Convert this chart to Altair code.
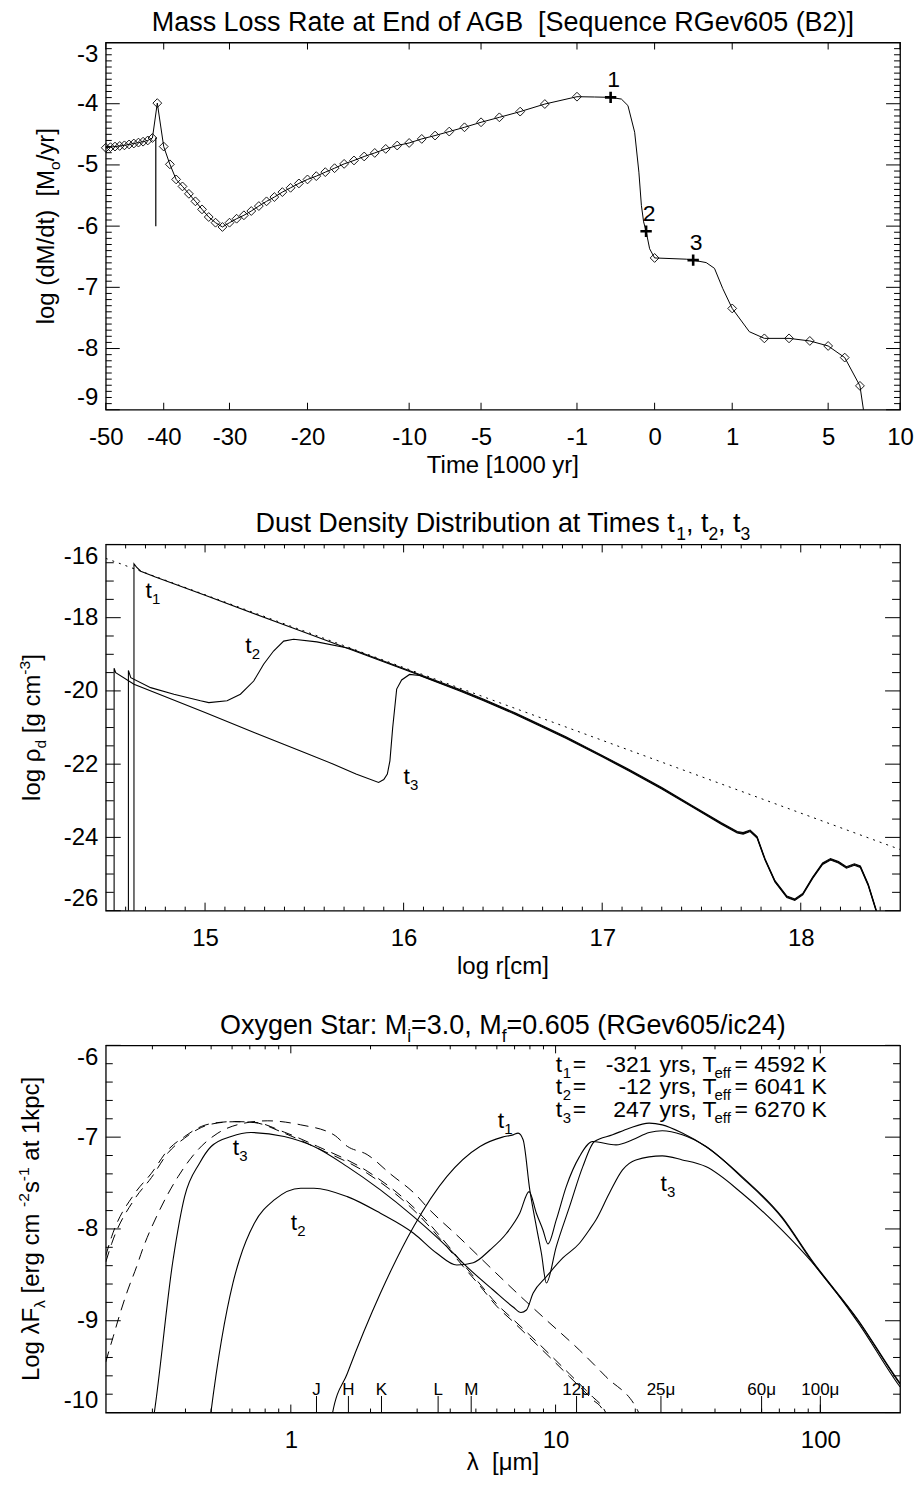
import altair as alt
import pandas as pd
import numpy as np

FONT = "Liberation Sans"

# ------------------------------------------------------------------
# Panel 1 : mass-loss rate history (time in 1000 yr, log dM/dt)
# ------------------------------------------------------------------
cluster_t = [-50.0, -49.15, -48.33, -47.49, -46.66, -45.84, -45.02, -44.22, -43.43, -42.64, -41.86]
cluster_v = [-4.72, -4.71, -4.70, -4.69, -4.68, -4.665, -4.65, -4.635, -4.62, -4.60, -4.56]
spike_t = [-41.05]
spike_v = [-3.99]
agb_t = [-40, -39, -38, -37, -36, -35, -34, -33, -32, -31, -30, -29, -28, -27, -26, -25, -24, -23, -22, -21,
         -20, -19, -18, -17, -16, -15, -14, -13, -12, -11, -10, -9, -8, -7, -6, -5, -4, -3, -2, -1]
agb_v = [-4.70, -4.99, -5.237, -5.351, -5.472, -5.595, -5.726, -5.851, -5.944, -6.014,
         -5.944, -5.879, -5.823, -5.753, -5.672, -5.595, -5.525, -5.444, -5.374, -5.302,
         -5.237, -5.183, -5.118, -5.053, -4.983, -4.927, -4.862, -4.804, -4.738, -4.683,
         -4.641, -4.575, -4.52, -4.455, -4.385, -4.303, -4.222, -4.129, -4.005, -3.885]
post_t = [0, 1, 2, 3, 4, 5, 6, 7]
post_v = [-6.52, -7.345, -7.834, -7.834, -7.876, -7.958, -8.148, -8.61]
curve_t = [-0.6, -0.183, -0.118, -0.066, -0.041, -0.029, -0.020, -0.0041, 0.166, 0.442, 0.595, 0.771, 1.49, 7.24, 7.45]
curve_v = [-3.89, -3.924, -4.03, -4.466, -5.118, -5.66, -5.93, -6.37, -6.54, -6.596, -6.69, -7.02, -7.725, -9.0, -9.8]
cross_t = [-0.321, -0.012, 0.247]
cross_v = [-3.896, -6.084, -6.556]
cross_txt = ["1", "2", "3"]
drop_t = [-41.3]
drop_v1 = [-4.55]
drop_v2 = [-6.0]
time_ticks = [-50, -40, -30, -20, -10, -5, -1, 0, 1, 5, 10]
mdot_ticks = [-3, -4, -5, -6, -7, -8, -9]

# ------------------------------------------------------------------
# Panel 2 : dust density distribution (log r, log rho_d)
# ------------------------------------------------------------------
dot_r = [14.5, 18.5]
dot_v = [-16.38, -24.33]
merge_r = [16.4, 16.566, 16.7, 16.817, 17.0, 17.133, 17.3, 17.45, 17.6, 17.68, 17.71, 17.745, 17.78, 17.82,
           17.87, 17.93, 17.97, 18.01, 18.06, 18.11, 18.15, 18.19, 18.23, 18.27, 18.30, 18.34, 18.38, 18.42]
d1_r = [14.642, 14.642, 14.655, 14.676, 14.75, 15.0, 15.5, 16.0, 16.283] + merge_r
d1_v = [-26.5, -16.53, -16.62, -16.73, -16.89, -17.39, -18.40, -19.41, -19.98,
        -20.24, -20.63, -20.97, -21.27, -21.78, -22.16, -22.66, -23.14, -23.62, -23.86, -23.89, -23.82, -24.0, -24.6,
        -25.2, -25.62, -25.7, -25.55, -25.1, -24.72, -24.6, -24.68, -24.82, -24.74, -24.8, -25.3, -26.0, -26.6]
d2_r = [14.614, 14.614, 14.626, 14.726, 14.843, 14.977, 15.019, 15.111, 15.178, 15.245, 15.295, 15.345,
        15.396, 15.446, 15.563, 15.73, 16.0, 16.283] + merge_r
d2_v = [-26.5, -19.44, -19.64, -19.91, -20.09, -20.27, -20.32, -20.27, -20.09, -19.73, -19.27, -18.91,
        -18.64, -18.59, -18.66, -18.84, -19.39, -19.96,
        -20.22, -20.61, -20.95, -21.25, -21.76, -22.14, -22.64, -23.12, -23.60, -23.84, -23.87, -23.80, -23.98, -24.58,
        -25.18, -25.6, -25.68, -25.53, -25.08, -24.70, -24.58, -24.66, -24.80, -24.72, -24.78, -25.28, -25.98, -26.58]
d3_r = [14.542, 14.542, 14.55, 14.642, 14.81, 15.0, 15.25, 15.5, 15.647, 15.76, 15.874, 15.90, 15.918, 15.931,
        15.945, 15.965, 15.99, 16.03, 16.08, 16.283] + merge_r
d3_v = [-26.5, -19.38, -19.50, -19.82, -20.18, -20.59, -21.14, -21.68, -22.0, -22.27, -22.5, -22.42, -22.27, -21.91,
        -21.0, -19.95, -19.70, -19.55, -19.58, -20.0,
        -20.26, -20.65, -20.99, -21.29, -21.80, -22.18, -22.68, -23.16, -23.64, -23.88, -23.91, -23.84, -24.02, -24.62,
        -25.22, -25.64, -25.72, -25.57, -25.12, -24.74, -24.62, -24.70, -24.84, -24.76, -24.82, -25.32, -26.02, -26.62]
dlab_r = [14.70, 15.203, 16.0]
dlab_v = [-17.46, -18.96, -22.54]
dlab_sub = ["1", "2", "3"]
r_major = [15, 16, 17, 18]
rho_major = [-16, -18, -20, -22, -24, -26]

# ------------------------------------------------------------------
# Panel 3 : spectral energy distributions (lambda in micron, log lambda F_lambda)
# ------------------------------------------------------------------
s1_lam = [1.40, 1.434, 1.634, 2.179, 2.908, 3.882, 5.181, 6.3, 6.91, 7.22, 7.54, 7.99, 8.46, 8.84, 9.23, 10.06,
          11.29, 12.67, 14.02, 16.42, 18.98, 22.57, 25.3, 30.1, 36.9, 50.6, 71.5, 92.8, 138.9, 197.7, 200]
s1_v = [-10.2, -10.02, -9.574, -8.701, -7.975, -7.430, -7.102, -7.00, -6.975, -6.956, -7.029, -7.575, -7.975,
        -8.265, -8.589, -8.193, -7.757, -7.321, -7.048, -6.975, -6.902, -6.847, -6.866, -6.956, -7.102, -7.43,
        -7.866, -8.338, -8.992, -9.66, -9.68]
s2_lam = [0.48, 0.498, 0.604, 0.639, 0.728, 0.866, 1.090, 1.223, 1.634, 2.179, 2.908, 3.56, 4.234, 4.888, 5.648,
          6.53, 7.32, 7.94, 8.46, 8.96, 9.36, 10.06, 10.97, 12.31, 13.81, 16.91, 19.53, 22.57, 25.3, 30.1, 36.9,
          50.6, 71.5, 92.8, 138.9, 197.7, 200]
s2_v = [-10.4, -10.02, -8.592, -8.338, -7.938, -7.684, -7.556, -7.556, -7.648, -7.829, -8.047, -8.265, -8.393,
        -8.368, -8.229, -8.047, -7.829, -7.593, -7.829, -8.011, -8.164, -7.902, -7.539, -7.212, -7.048, -7.084,
        -7.029, -6.95, -6.93, -6.975, -7.10, -7.44, -7.876, -8.35, -9.0, -9.67, -9.69]
s3_lam = [0.29, 0.3044, 0.359, 0.397, 0.452, 0.500, 0.595, 0.707, 0.944, 1.223, 1.634, 2.179, 2.908, 3.882, 4.617,
          5.812, 6.91, 7.40, 7.76, 8.22, 9.23, 10.65, 12.31, 13.4, 14.2, 15.96, 17.9, 20.1, 25.3, 30.1, 36.9, 50.6,
          71.5, 92.8, 138.9, 197.7, 200]
s3_v = [-10.4, -10.02, -8.338, -7.648, -7.284, -7.102, -6.993, -6.950, -6.993, -7.102, -7.321, -7.575, -7.866,
        -8.193, -8.411, -8.665, -8.85, -8.91, -8.883, -8.701, -8.52, -8.316, -8.156, -8.011, -7.902, -7.611, -7.357,
        -7.248, -7.204, -7.248, -7.321, -7.611, -8.011, -8.36, -9.02, -9.70, -9.72]
p1_lam = [0.2, 0.206, 0.2133, 0.2245, 0.2422, 0.2615, 0.2749, 0.3153, 0.3751, 0.4459, 0.5302, 0.6486, 0.8176,
          1.090, 1.455, 1.634, 1.942, 2.376, 2.995, 3.265, 4.356, 5.81, 7.536, 9.226, 12.31, 15.51, 20.39, 21.0]
p1_v = [-9.45, -9.32, -9.175, -8.956, -8.665, -8.411, -8.229, -7.829, -7.43, -7.138, -6.956, -6.855, -6.822,
        -6.866, -6.975, -7.10, -7.19, -7.40, -7.64, -7.76, -8.10, -8.45, -8.76, -8.992, -9.32, -9.611, -9.974, -10.05]
p3_lam = [0.2, 0.2105, 0.2576, 0.2976, 0.3439, 0.3971, 0.4588, 0.5302, 0.612, 0.7278, 0.9437, 1.26, 1.942, 2.995,
          3.882, 4.483, 5.18, 5.985, 6.91, 8.218, 9.768, 11.29, 13.81, 15.06, 15.5]
p3_v = [-8.29, -8.084, -7.611, -7.393, -7.138, -6.993, -6.884, -6.841, -6.830, -6.841, -6.956, -7.12, -7.393,
        -7.829, -8.193, -8.411, -8.62, -8.84, -9.01, -9.22, -9.43, -9.61, -9.86, -9.97, -10.05]
p2_lam = [0.2, 0.2105, 0.2576, 0.2976, 0.3439, 0.3971, 0.4588, 0.5302, 0.612, 0.7278, 0.9437, 1.26, 1.942, 2.995,
          3.882, 4.483, 5.18, 5.985, 6.91, 8.218, 9.768, 11.29, 13.81, 15.06, 15.6]
p2_v = [-8.36, -8.16, -7.67, -7.44, -7.17, -7.01, -6.895, -6.845, -6.832, -6.838, -6.945, -7.10, -7.37, -7.80,
        -8.165, -8.385, -8.60, -8.815, -8.985, -9.19, -9.40, -9.58, -9.83, -9.94, -10.02]
band_lam = [1.25, 1.65, 2.2, 3.6, 4.8, 12, 25, 60, 100]
band_txt = ["J", "H", "K", "L", "M", "12\u03bc", "25\u03bc", "60\u03bc", "100\u03bc"]
band_lo = -10.0
band_hi = -9.82
slab_lam = [6.05, 1.0, 0.604, 24.9]
slab_v = [-6.90, -8.01, -7.19, -7.59]
slab_sub = ["1", "2", "3", "3"]
leg_sub = ["1", "2", "3"]
leg_time = ["-321", "-12", "247"]
leg_teff = ["4592", "6041", "6270"]
lam_major = [1, 10, 100]
lam_minor = [0.3, 0.4, 0.5, 0.6, 0.7, 0.8, 0.9, 2, 3, 4, 5, 6, 7, 8, 9, 20, 30, 40, 50, 60, 70, 80, 90]
flux_major = [-6, -7, -8, -9, -10]

# ------------------------------------------------------------------
# layout / styling
# ------------------------------------------------------------------
W = 796
H1, H2, H3 = 368, 367, 368
GAP = 135
FS_TICK = 24
FS_TITLE = 27
FS_AX = 24
FS_LEG = 23

ADV = {' ': .278, '\u00a0': .278, '(': .333, ')': .333, ',': .278, '-': .333, '.': .278, '/': .278,
       ':': .278, '=': .584, '[': .278, ']': .278, '\u03bb': .5, '\u03c1': .578, '\u03bc': .576}
for c in '0123456789':
    ADV[c] = .556
ADV.update(dict(A=.667, B=.667, C=.722, D=.722, E=.667, F=.611, G=.778, H=.722, I=.278, J=.5, K=.667, L=.556,
                M=.833, N=.722, O=.778, P=.667, Q=.778, R=.722, S=.667, T=.611, U=.722, V=.667, W=.944, X=.667,
                Y=.667, Z=.611))
ADV.update(dict(a=.556, b=.556, c=.5, d=.556, e=.556, f=.278, g=.556, h=.556, i=.222, j=.222, k=.5, l=.222,
                m=.833, n=.556, o=.556, p=.556, q=.556, r=.333, s=.5, t=.278, u=.556, v=.5, w=.722, x=.5, y=.5,
                z=.5))


def tw(s, fs):
    return fs * sum(ADV.get(c, .556) for c in s)


ANCHOR = pd.DataFrame({"k": [0]})


def txt(s, x, y, fs, dx=0.0, dy=0.0, angle=0, align="left"):
    lead = len(s) - len(s.lstrip(" "))
    if lead and align == "left":
        dx += lead * ADV[" "] * fs
        s = s.lstrip(" ")
    return alt.Chart(ANCHOR).mark_text(
        text=s, font=FONT, fontSize=fs, color="black", align=align, baseline="alphabetic",
        angle=angle, dx=dx, dy=dy
    ).encode(x=alt.value(x), y=alt.value(y))


def rich(runs, x, y, fs, angle=0):
    sfs = round(fs * 0.65, 2)
    parts = []
    for s, k in runs:
        size = fs if k == "n" else sfs
        parts.append((s, k, size, tw(s, size)))
    total = sum(p[3] for p in parts)
    pos = -total / 2
    out = []
    for s, k, size, w in parts:
        off = {"n": 0.0, "sub": 0.27 * fs, "sup": -0.42 * fs}[k]
        out.append(txt(s, x, y, size, dx=pos, dy=off, angle=angle))
        pos += w
    return out


def xaxis(vals):
    return alt.Axis(values=vals, labelExpr="datum.value + ''", ticks=False, domain=False, grid=False,
                    labelFont=FONT, labelFontSize=FS_TICK, labelColor="black", labelPadding=16,
                    labelFlush=False, labelOverlap=False, title=None)


def yaxis(vals):
    return alt.Axis(values=vals, labelExpr="datum.value + ''", ticks=False, domain=False, grid=False,
                    labelFont=FONT, labelFontSize=FS_TICK, labelColor="black", labelPadding=8,
                    labelFlush=True, labelFlushOffset=0, labelOverlap=False, title=None)


def ticks(xs, ys, ax, ay, xmaj, xmin, ymaj, ymin, lx, sx, ly, sy, h):
    out = []
    for vals, L in ((xmaj, lx), (xmin, sx)):
        if len(vals) == 0:
            continue
        df = pd.DataFrame({"tv": vals})
        base = alt.Chart(df).mark_rule(color="black", strokeWidth=1)
        out.append(base.encode(x=alt.X("tv:Q", scale=xs, axis=ax), y=alt.value(h), y2=alt.value(h - L)))
        out.append(base.encode(x=alt.X("tv:Q", scale=xs, axis=ax), y=alt.value(0), y2=alt.value(L)))
    for vals, L in ((ymaj, ly), (ymin, sy)):
        if len(vals) == 0:
            continue
        df = pd.DataFrame({"tv": vals})
        base = alt.Chart(df).mark_rule(color="black", strokeWidth=1)
        out.append(base.encode(y=alt.Y("tv:Q", scale=ys, axis=ay), x=alt.value(0), x2=alt.value(L)))
        out.append(base.encode(y=alt.Y("tv:Q", scale=ys, axis=ay), x=alt.value(W), x2=alt.value(W - L)))
    return out


def series(name, xs, ys):
    return pd.DataFrame({"s": name, "x": xs, "y": ys, "i": list(range(len(xs)))})


# ------------------------------------------------------------------
# Panel 1
# ------------------------------------------------------------------
xs1 = alt.Scale(type="sqrt", domain=[-50, 10], zero=False, nice=False)
ys1 = alt.Scale(domain=[-9, -3], zero=False, nice=False)
ax1 = xaxis(time_ticks)
ay1 = yaxis(mdot_ticks)

all_t = cluster_t + spike_t + agb_t + post_t + curve_t + cross_t
all_v = cluster_v + spike_v + agb_v + post_v + curve_v + cross_v
line_df = pd.DataFrame({"t": all_t, "v": all_v}).sort_values("t").reset_index(drop=True)
line_df["i"] = range(len(line_df))
diam_df = pd.DataFrame({"t": cluster_t + spike_t + agb_t + post_t, "v": cluster_v + spike_v + agb_v + post_v})
cross_df = pd.DataFrame({"t": cross_t, "v": cross_v, "lab": cross_txt})
drop_df = pd.DataFrame({"t": drop_t, "v1": drop_v1, "v2": drop_v2})


def X1(f):
    return alt.X(f, scale=xs1, axis=ax1)


def Y1(f):
    return alt.Y(f, scale=ys1, axis=ay1)


bound1 = alt.Chart(ANCHOR).mark_rect(opacity=0).encode(
    x=alt.value(-105), x2=alt.value(815), y=alt.value(-40), y2=alt.value(-4))
line1 = alt.Chart(line_df).mark_line(color="black", strokeWidth=1, clip=True).encode(
    x=X1("t:Q"), y=Y1("v:Q"), order="i:Q")
drop1 = alt.Chart(drop_df).mark_rule(color="black", strokeWidth=1.2).encode(
    x=X1("t:Q"), y=Y1("v1:Q"), y2="v2:Q")
diam1 = alt.Chart(diam_df).mark_point(shape="diamond", filled=False, size=78, color="black",
                                      strokeWidth=0.9, opacity=1).encode(x=X1("t:Q"), y=Y1("v:Q"))
cross1 = alt.Chart(cross_df).mark_point(shape="M-1,0H1M0,-1V1", filled=False, size=130, color="black",
                                        strokeWidth=2.6, opacity=1).encode(x=X1("t:Q"), y=Y1("v:Q"))
crosslab1 = alt.Chart(cross_df).mark_text(font=FONT, fontSize=FS_LEG, color="black", align="center",
                                          baseline="alphabetic", dx=3, dy=-10).encode(
    x=X1("t:Q"), y=Y1("v:Q"), text="lab:N")

ymin1 = [round(v, 1) for v in np.arange(-9.0, -3.0, 0.1) if abs(v - round(v)) > 1e-6]
layers1 = [bound1, line1, drop1, diam1, cross1, crosslab1]
layers1 += ticks(xs1, ys1, ax1, ay1, time_ticks, [], mdot_ticks, ymin1, 7, 0, 14, 6, H1)
layers1 += [txt("Mass Loss Rate at End of AGB \u00a0[Sequence RGev605 (B2)]", W / 2, -12, FS_TITLE,
                align="center")]
layers1 += [txt("Time [1000 yr]", W / 2, H1 + 63, FS_AX, align="center")]
layers1 += rich([("log (dM/dt) \u00a0[M", "n"), ("o", "sub"), ("/yr]", "n")], -52, H1 / 2, FS_AX, angle=270)
panel1 = alt.layer(*layers1).properties(width=W, height=H1)

# ------------------------------------------------------------------
# Panel 2
# ------------------------------------------------------------------
xs2 = alt.Scale(domain=[14.5, 18.5], zero=False, nice=False)
ys2 = alt.Scale(domain=[-26, -16], zero=False, nice=False)
ax2 = xaxis(r_major)
ay2 = yaxis(rho_major)


def X2(f):
    return alt.X(f, scale=xs2, axis=ax2)


def Y2(f):
    return alt.Y(f, scale=ys2, axis=ay2)


dens_df = pd.concat([series("t1", d1_r, d1_v), series("t2", d2_r, d2_v), series("t3", d3_r, d3_v)])
dot_df = series("dot", dot_r, dot_v)
dlab_df = pd.DataFrame({"x": dlab_r, "y": dlab_v, "sub": dlab_sub})

dens = alt.Chart(dens_df).mark_line(color="black", strokeWidth=1.1, clip=True).encode(
    x=X2("x:Q"), y=Y2("y:Q"), detail="s:N", order="i:Q")
dots = alt.Chart(dot_df).mark_line(color="black", strokeWidth=1, strokeDash=[2, 5], clip=True).encode(
    x=X2("x:Q"), y=Y2("y:Q"), order="i:Q")
dlab_t = alt.Chart(dlab_df).mark_text(text="t", font=FONT, fontSize=FS_LEG, color="black", align="left",
                                      baseline="alphabetic").encode(x=X2("x:Q"), y=Y2("y:Q"))
dlab_s = alt.Chart(dlab_df).mark_text(font=FONT, fontSize=15, color="black", align="left",
                                      baseline="alphabetic", dx=6.5, dy=6).encode(
    x=X2("x:Q"), y=Y2("y:Q"), text="sub:N")

xmin2 = [round(v, 1) for v in np.arange(14.6, 18.45, 0.1) if abs(v - round(v)) > 1e-6]
ymin2 = [v for v in np.arange(-25.5, -16.0, 0.5) if round(v) % 2 != 0 or abs(v - round(v)) > 1e-6]
layers2 = [dots, dens, dlab_t, dlab_s]
layers2 += ticks(xs2, ys2, ax2, ay2, r_major, xmin2, rho_major, ymin2, 8, 4, 15, 8, H2)
layers2 += rich([("Dust Density Distribution at Times t", "n"), ("1", "sub"), (", t", "n"), ("2", "sub"),
                 (", t", "n"), ("3", "sub")], W / 2, -12, FS_TITLE)
layers2 += [txt("log r[cm]", W / 2, H2 + 63, FS_AX, align="center")]
layers2 += rich([("log \u03c1", "n"), ("d", "sub"), (" [g cm", "n"), ("-3", "sup"), ("]", "n")],
                -66, H2 / 2, FS_AX, angle=270)
panel2 = alt.layer(*layers2).properties(width=W, height=H2)

# ------------------------------------------------------------------
# Panel 3
# ------------------------------------------------------------------
xs3 = alt.Scale(type="log", domain=[0.2, 200], nice=False)
ys3 = alt.Scale(domain=[-10, -6], zero=False, nice=False)
ax3 = xaxis(lam_major)
ay3 = yaxis(flux_major)


def X3(f):
    return alt.X(f, scale=xs3, axis=ax3)


def Y3(f):
    return alt.Y(f, scale=ys3, axis=ay3)


sed_df = pd.concat([series("t1", s1_lam, s1_v), series("t2", s2_lam, s2_v), series("t3", s3_lam, s3_v)])
phot_df = pd.concat([series("p1", p1_lam, p1_v), series("p2", p2_lam, p2_v), series("p3", p3_lam, p3_v)])
band_df = pd.DataFrame({"x": band_lam, "lab": band_txt, "lo": band_lo, "hi": band_hi})
slab_df = pd.DataFrame({"x": slab_lam, "y": slab_v, "sub": slab_sub})

bound3 = alt.Chart(ANCHOR).mark_rect(opacity=0).encode(
    x=alt.value(-105), x2=alt.value(815), y=alt.value(H3 + 4), y2=alt.value(444))
sed = alt.Chart(sed_df).mark_line(color="black", strokeWidth=1.1, clip=True, interpolate="monotone").encode(
    x=X3("x:Q"), y=Y3("y:Q"), detail="s:N", order="i:Q")
phot = alt.Chart(phot_df).mark_line(color="black", strokeWidth=1, strokeDash=[11, 7], clip=True,
                                    interpolate="monotone").encode(
    x=X3("x:Q"), y=Y3("y:Q"), detail="s:N", order="i:Q")
band_rule = alt.Chart(band_df).mark_rule(color="black", strokeWidth=1).encode(
    x=X3("x:Q"), y=Y3("lo:Q"), y2="hi:Q")
band_text = alt.Chart(band_df).mark_text(font=FONT, fontSize=17, color="black", align="center",
                                         baseline="alphabetic", dy=-1).encode(
    x=X3("x:Q"), y=Y3("hi:Q"), text="lab:N")
slab_t = alt.Chart(slab_df).mark_text(text="t", font=FONT, fontSize=FS_LEG, color="black", align="left",
                                      baseline="alphabetic").encode(x=X3("x:Q"), y=Y3("y:Q"))
slab_s = alt.Chart(slab_df).mark_text(font=FONT, fontSize=15, color="black", align="left",
                                      baseline="alphabetic", dx=6.5, dy=6).encode(
    x=X3("x:Q"), y=Y3("y:Q"), text="sub:N")

ymin3 = [round(v, 1) for v in np.arange(-9.8, -6.0, 0.2) if abs(v - round(v)) > 1e-6]
layers3 = [bound3, phot, sed, band_rule, band_text, slab_t, slab_s]
layers3 += ticks(xs3, ys3, ax3, ay3, lam_major, lam_minor, flux_major, ymin3, 8, 4, 15, 7, H3)
layers3 += rich([("Oxygen Star: M", "n"), ("i", "sub"), ("=3.0, M", "n"), ("f", "sub"),
                 ("=0.605 (RGev605/ic24)", "n")], W / 2, -11, FS_TITLE)
layers3 += [txt("\u03bb \u00a0[\u03bcm]", W / 2, H3 + 58, FS_AX, align="center")]
layers3 += rich([("Log \u03bbF", "n"), ("\u03bb", "sub"), (" \u00a0[erg cm", "n"), ("-2", "sup"), ("s", "n"),
                 ("-1", "sup"), (" at 1kpc]", "n")], -67, H3 / 2, FS_AX, angle=270)
# legend rows
leg_y = [27, 49, 72]
for k in range(3):
    yb = leg_y[k]
    layers3.append(txt("t", 451, yb, FS_LEG))
    layers3.append(txt(leg_sub[k], 458, yb, 15, dy=6))
    layers3.append(txt("=", 468, yb, FS_LEG))
    layers3.append(txt(leg_time[k], 547, yb, FS_LEG, align="right"))
    layers3.append(txt("yrs, T", 555, yb, FS_LEG))
    layers3.append(txt("eff", 610, yb, 15, dy=6))
    layers3.append(txt("= " + leg_teff[k] + " K", 630, yb, FS_LEG))
panel3 = alt.layer(*layers3).properties(width=W, height=H3)

chart = alt.vconcat(panel1, panel2, panel3, spacing=GAP, bounds="flush", padding=0,
                    background="white").configure_view(stroke="black", strokeWidth=1.3)

chart.save("out.html", embed_options={"renderer": "svg", "actions": False})
